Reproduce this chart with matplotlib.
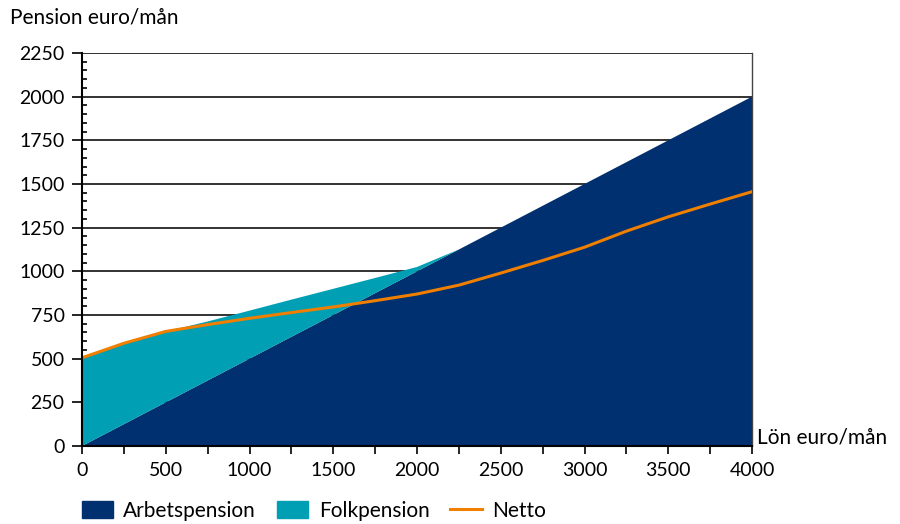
import numpy as np
import matplotlib.pyplot as plt
from matplotlib.patches import Patch
from matplotlib.lines import Line2D
from matplotlib.ticker import MultipleLocator

plt.rcParams['font.family'] = ['Lato', 'DejaVu Sans']

# lön euro/mån
lon = [0, 250, 500, 750, 1000, 1250, 1500, 1750, 2000, 2250, 2500, 2750, 3000, 3250, 3500, 3750, 4000]
arbetspension = [0, 125, 250, 375, 500, 625, 750, 875, 1000, 1125, 1250, 1375, 1500, 1625, 1750, 1875, 2000]
folkpension = [500, 463, 405, 338, 275, 213, 150, 87, 25, 0, 0, 0, 0, 0, 0, 0, 0]
netto = [505, 588, 656, 695, 731, 764, 796, 832, 870, 921, 990, 1062, 1138, 1230, 1312, 1385, 1456]

navy = '#00306f'
teal = '#009fb3'
orange = '#f07f00'

fig = plt.figure(figsize=(9, 5.24), dpi=100)
ax = fig.add_axes([82/900, 1-446/524, 670/900, 393/524])

ax.stackplot(lon, arbetspension, folkpension, colors=[navy, teal], zorder=2)
ax.plot(lon, netto, color=orange, lw=2.2, zorder=3)

ax.set_xlim(0, 4000)
ax.set_ylim(0, 2250)

for v in range(250, 2251, 250):
    ax.axhline(v, color='#222222', lw=1.3, zorder=1)

ax.xaxis.set_major_locator(MultipleLocator(500))
ax.xaxis.set_minor_locator(MultipleLocator(250))
ax.yaxis.set_major_locator(MultipleLocator(250))
ax.yaxis.set_minor_locator(MultipleLocator(50))

ax.tick_params(axis='x', which='both', direction='out', length=5.5, width=1.2,
               labelsize=14, pad=6)
ax.tick_params(axis='y', which='major', direction='out', length=7.5, width=1.2,
               labelsize=14, pad=5)
ax.tick_params(axis='y', which='minor', direction='in', length=3.5, width=1.2)

for s in ['left', 'bottom']:
    ax.spines[s].set_linewidth(1.5)
    ax.spines[s].set_zorder(5)
ax.spines['top'].set_visible(False)
ax.spines['right'].set_color('#444444')
ax.spines['right'].set_linewidth(1.0)

fig.text(10/900, 1-18/524, 'Pension euro/mån', fontsize=15, va='center', ha='left')
fig.text(757/900, 1-438/524, 'Lön euro/mån', fontsize=15, va='center', ha='left')

handles = [Patch(color=navy), Patch(color=teal), Line2D([], [], color=orange, lw=2.2)]
labels = ['Arbetspension', 'Folkpension', 'Netto']
fig.legend(handles, labels, loc='center left', bbox_to_anchor=(63/900, 1-511/524),
           ncol=3, frameon=False, fontsize=15, handlelength=1.5, handleheight=0.9,
           handletextpad=0.5, columnspacing=1.0)

fig.savefig('out.png', dpi=100)
